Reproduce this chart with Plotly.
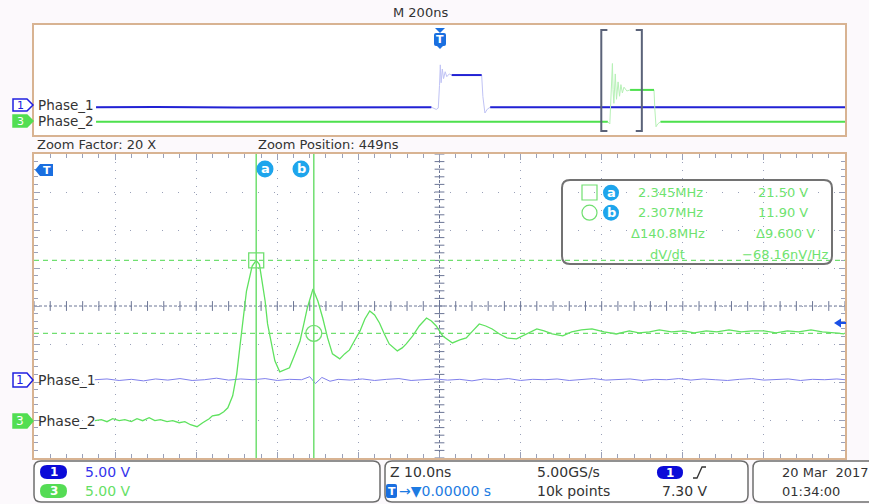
import numpy as np
import plotly.graph_objects as go

W, H = 869, 504

# ---------------- data ----------------
VOLTS_PER_DIV = 5.0
CH1_OFFSET_DIV = -2.0
CH3_OFFSET_DIV = -3.1
ZOOM_CENTER_NS = 449.0
ZOOM_RANGE_NS = [399.0, 499.0]
OVERVIEW_RANGE_NS = [-1000.0, 1000.0]

# zoomed Phase_2 (channel 3) waveform: time (ns) and volts
zoom_t3 = [406.5, 407.3, 408.0, 408.7, 409.5, 410.2, 411.0, 411.7, 412.4, 413.2,
           413.9, 414.6, 415.4, 416.1, 416.9, 417.6, 418.3, 419.1, 419.8, 420.6,
           421.0, 421.8, 422.4, 422.9, 423.5, 424.0, 424.4, 424.9, 425.2, 425.9,
           426.4, 426.8, 427.1, 427.5, 427.8, 428.3, 428.7, 429.3, 429.9, 430.5,
           431.1, 431.8, 432.3, 432.7, 433.4, 434.0, 434.6, 435.2, 435.8, 436.7,
           437.3, 437.9, 438.5, 439.2, 439.8, 440.4, 441.0, 441.6, 442.2, 442.8,
           443.8, 444.4, 444.9, 445.7, 446.5, 447.4, 448.0, 448.6, 449.4, 450.0,
           450.6, 451.5, 452.3, 453.1, 453.9, 454.7, 455.5, 456.4, 457.3, 458.5,
           459.7, 461.0, 461.9, 462.9, 464.2, 465.3, 466.5, 467.8, 469.3, 470.8,
           472.4, 473.6, 474.9, 476.1, 477.6, 479.1, 480.4, 481.9, 483.2, 484.7,
           486.2, 487.6, 489.0, 490.5, 491.9, 493.3, 494.8, 496.2, 497.7, 498.9]
zoom_v3 = [0.41, 0.54, 0.28, 0.67, 0.41, 0.54, 0.28, 0.67, 0.41, 0.80,
           0.41, 0.54, 0.28, 0.41, 0.14, 0.28, -0.12, -0.38, 0.14, 0.67,
           1.06, 1.19, 1.59, 2.11, 3.69, 6.57, 10.25, 14.84, 17.47, 20.75,
           21.50, 20.95, 18.78, 16.16, 13.14, 10.25, 8.28, 6.84, 7.10, 7.36,
           8.94, 10.90, 13.27, 15.24, 17.73, 16.16, 13.92, 11.30, 9.20, 8.54,
           9.20, 9.72, 10.90, 12.22, 13.79, 14.84, 14.32, 13.27, 11.82, 10.51,
           9.59, 9.99, 10.51, 11.56, 12.87, 13.92, 13.53, 12.87, 11.56, 11.04,
           10.64, 11.04, 11.30, 12.22, 13.14, 12.87, 12.48, 11.82, 11.30, 11.17,
           11.82, 12.48, 12.22, 11.82, 11.56, 12.09, 12.35, 12.48, 12.09, 11.82,
           12.22, 11.96, 12.09, 12.35, 12.09, 12.22, 11.96, 12.22, 12.09, 12.35,
           12.09, 12.22, 12.22, 11.96, 12.22, 12.09, 12.35, 12.09, 11.96, 11.82]

# zoomed Phase_1 (channel 1) waveform
zoom_t1 = [406.5, 408.0, 409.5, 411.0, 412.5, 414.0, 415.5, 417.0, 418.5, 420.0,
           421.5, 423.0, 424.5, 426.0, 427.5, 429.0, 430.5, 432.0, 433.0, 433.7,
           434.5, 435.5, 436.5, 438.0, 439.5, 441.0, 442.5, 444.0, 445.5, 447.0,
           448.5, 450.0, 451.5, 453.0, 454.5, 456.0, 457.5, 459.0, 460.5, 462.0,
           463.5, 465.0, 466.5, 468.0, 469.5, 471.0, 472.5, 474.0, 475.5, 477.0,
           478.5, 480.0, 481.5, 483.0, 484.5, 486.0, 487.5, 489.0, 490.5, 492.0,
           493.5, 495.0, 496.5, 498.0, 499.0]
zoom_v1 = [0.30, 0.40, 0.20, 0.35, 0.15, 0.40, 0.25, 0.45, 0.20, 0.30,
           0.50, 0.25, 0.40, 0.30, 0.45, 0.20, 0.35, 0.30, 0.70, -0.20,
           0.60, 0.10, 0.35, 0.25, 0.40, 0.20, 0.35, 0.45, 0.20, 0.30,
           0.40, 0.25, 0.35, 0.15, 0.40, 0.30, 0.45, 0.20, 0.35, 0.30,
           0.40, 0.20, 0.35, 0.45, 0.25, 0.30, 0.40, 0.20, 0.35, 0.30,
           0.45, 0.25, 0.40, 0.30, 0.20, 0.35, 0.45, 0.25, 0.30, 0.40,
           0.20, 0.35, 0.30, 0.40, 0.30]

# overview (200 ns/div) waveforms
ov_t1 = [-847, -700, -500, -300, -100, -20, -8, -3, 0, 2,
         4, 7, 10, 14, 18, 24, 30, 60, 104, 107,
         112, 118, 125, 300, 500, 700, 1000]
ov_v1 = [0.1, 0.2, 0.0, 0.1, 0.2, 0.1, -0.7, -0.2, 8.0, 15.5,
         9.0, 14.0, 10.5, 13.0, 11.2, 12.2, 11.8, 11.8, 11.8, 4.0,
         -2.0, -0.6, 0.1, 0.1, 0.2, 0.0, 0.1]
ov_t3 = [-847, -600, -300, 0, 200, 415, 420, 423, 425, 426.4,
         428, 430, 433.5, 436.5, 440.4, 444, 447.4, 451, 455, 462,
         470, 500, 529, 531, 534, 538, 545, 700, 850, 1000]
ov_v3 = [0.35, 0.30, 0.40, 0.35, 0.30, 0.35, -0.5, 8.0, 18.0, 21.5,
         12.0, 7.0, 17.7, 8.5, 14.8, 9.6, 13.8, 10.8, 12.9, 11.5,
         11.9, 11.9, 11.9, 5.0, -1.5, -0.5, 0.3, 0.35, 0.30, 0.35]

# cursors
cursor_t = [426.4, 433.5]
cursor_v = [21.50, 11.90]

readout_freq = ["2.345MHz", "2.307MHz", "Δ140.8MHz", "dV/dt"]
readout_volt = ["21.50 V", "11.90 V", "Δ9.600 V", "−68.16nV/Hz"]

# ---------------- styles ----------------
FONT = "DejaVu Sans"
TAN = "#d8b392"
GRID = "#9aa1b9"
CROSS = "#6c7696"
BLUE = "#2222d4"
BLUE_PALE = "#c0c3f5"
BLUE_Z = "#8080ec"
GREEN = "#4ee04e"
GREEN_PALE = "#b6f1b6"
GREEN_Z = "#5fe25f"
CUR = "#70df70"
LBLUE = "#1ea5ec"
TBLUE = "#1a6fe0"
TXT = "#333333"


def px(x):
    return x / W


def py(y):
    return 1 - y / H


def to_div(vals, off):
    return [None if v is None else v / VOLTS_PER_DIV + off for v in vals]


def poly(points):
    return "M " + " L ".join(f"{px(x):.5f},{py(y):.5f}" for x, y in points) + " Z"


def rrect(x0, y0, x1, y1, r):
    P = lambda x, y: f"{px(x):.5f},{py(y):.5f}"
    return (f"M {P(x0 + r, y0)} L {P(x1 - r, y0)} Q {P(x1, y0)} {P(x1, y0 + r)} "
            f"L {P(x1, y1 - r)} Q {P(x1, y1)} {P(x1 - r, y1)} L {P(x0 + r, y1)} "
            f"Q {P(x0, y1)} {P(x0, y1 - r)} L {P(x0, y0 + r)} Q {P(x0, y0)} {P(x0 + r, y0)} Z")


shapes = []
annotations = []


def txt(x, y, s, color=TXT, size=13, anchor="left", bold=False):
    annotations.append(dict(
        x=px(x), y=py(y), xref="paper", yref="paper", text=(f"<b>{s}</b>" if bold else s),
        showarrow=False, xanchor=anchor, yanchor="middle",
        font=dict(family=FONT, size=size, color=color)))


def pshape(path, fill=None, line=None, width=1.5, layer="above"):
    shapes.append(dict(type="path", path=path, xref="paper", yref="paper",
                       fillcolor=fill if fill else "rgba(0,0,0,0)",
                       line=dict(color=line if line else "rgba(0,0,0,0)", width=width),
                       layer=layer))


def circ(cx, cy, r, fill=None, line=None, width=1.2):
    shapes.append(dict(type="circle", xref="paper", yref="paper",
                       x0=px(cx - r), x1=px(cx + r), y0=py(cy + r), y1=py(cy - r),
                       fillcolor=fill if fill else "rgba(0,0,0,0)",
                       line=dict(color=line if line else "rgba(0,0,0,0)", width=width)))


fig = go.Figure()

# ---------------- overview traces ----------------
def mask(ts, vs, windows):
    return [None if any(a < t < b for a, b in windows) else v for t, v in zip(ts, vs)]

fig.add_trace(go.Scatter(x=ov_t1, y=to_div(ov_v1, CH1_OFFSET_DIV), mode="lines",
                         line=dict(color=BLUE_PALE, width=1), xaxis="x", yaxis="y", hoverinfo="skip"))
fig.add_trace(go.Scatter(x=ov_t1, y=to_div(mask(ov_t1, ov_v1, [(-10, 28), (105, 124)]), CH1_OFFSET_DIV),
                         mode="lines", line=dict(color=BLUE, width=2), connectgaps=False,
                         xaxis="x", yaxis="y", hoverinfo="skip"))
fig.add_trace(go.Scatter(x=ov_t3, y=to_div(ov_v3, CH3_OFFSET_DIV), mode="lines",
                         line=dict(color=GREEN_PALE, width=1), xaxis="x", yaxis="y", hoverinfo="skip"))
fig.add_trace(go.Scatter(x=ov_t3, y=to_div(mask(ov_t3, ov_v3, [(416, 469), (530, 544)]), CH3_OFFSET_DIV),
                         mode="lines", line=dict(color=GREEN, width=2), connectgaps=False,
                         xaxis="x", yaxis="y", hoverinfo="skip"))

# ---------------- zoom panel crosshair ticks ----------------
hx = np.arange(ZOOM_RANGE_NS[0], ZOOM_RANGE_NS[1] + 0.01, 2.0)
fig.add_trace(go.Scatter(x=hx, y=np.zeros_like(hx), mode="markers",
                         marker=dict(symbol="line-ns", size=7, line=dict(width=1, color=CROSS)),
                         xaxis="x2", yaxis="y2", hoverinfo="skip"))
vy = np.arange(-4, 4.001, 0.2)
fig.add_trace(go.Scatter(x=np.full_like(vy, ZOOM_CENTER_NS), y=vy, mode="markers",
                         marker=dict(symbol="line-ew", size=7, line=dict(width=1, color=CROSS)),
                         xaxis="x2", yaxis="y2", hoverinfo="skip"))

# ---------------- zoom traces ----------------
fig.add_trace(go.Scatter(x=zoom_t1, y=to_div(zoom_v1, CH1_OFFSET_DIV), mode="lines",
                         line=dict(color=BLUE_Z, width=1), xaxis="x2", yaxis="y2", hoverinfo="skip"))
fig.add_trace(go.Scatter(x=zoom_t3, y=to_div(zoom_v3, CH3_OFFSET_DIV), mode="lines",
                         line=dict(color=GREEN_Z, width=1.3), xaxis="x2", yaxis="y2", hoverinfo="skip"))

# cursor markers
cdiv = to_div(cursor_v, CH3_OFFSET_DIV)
fig.add_trace(go.Scatter(x=[cursor_t[0]], y=[cdiv[0]], mode="markers",
                         marker=dict(symbol="square-open", size=15, color=CUR, line=dict(width=1.3)),
                         xaxis="x2", yaxis="y2", hoverinfo="skip"))
fig.add_trace(go.Scatter(x=[cursor_t[1]], y=[cdiv[1]], mode="markers",
                         marker=dict(symbol="circle-open", size=16, color=CUR, line=dict(width=1.3)),
                         xaxis="x2", yaxis="y2", hoverinfo="skip"))

# cursor lines
for t in cursor_t:
    shapes.append(dict(type="line", xref="x2", yref="y2", x0=t, x1=t, y0=-4, y1=4,
                       line=dict(color=CUR, width=1.5)))
for d in cdiv:
    shapes.append(dict(type="line", xref="x2", yref="y2", x0=ZOOM_RANGE_NS[0], x1=ZOOM_RANGE_NS[1],
                       y0=d, y1=d, line=dict(color=CUR, width=1.2, dash="5px,4px")))

# crosshair center lines
shapes.append(dict(type="line", xref="x2", yref="y2", x0=ZOOM_RANGE_NS[0], x1=ZOOM_RANGE_NS[1],
                   y0=0, y1=0, line=dict(color=CROSS, width=1, dash="3px,2px"), layer="below"))
shapes.append(dict(type="line", xref="x2", yref="y2", x0=ZOOM_CENTER_NS, x1=ZOOM_CENTER_NS,
                   y0=-4, y1=4, line=dict(color=CROSS, width=1, dash="3px,2px"), layer="below"))

# zoom bracket in overview
for (xa, xb) in [(ZOOM_RANGE_NS[0], ZOOM_RANGE_NS[0] + 15), (ZOOM_RANGE_NS[1], ZOOM_RANGE_NS[1] - 15)]:
    shapes.append(dict(type="path", xref="x", yref="paper",
                       path=f"M {xb},{py(30):.5f} L {xa},{py(30):.5f} L {xa},{py(131):.5f} L {xb},{py(131):.5f}",
                       line=dict(color="#5b6379", width=2)))

# ---------------- labels / decorations ----------------
txt(420, 12, "M 200ns", size=13, anchor="center")
txt(35, 144, "Zoom Factor: 20 X", size=13)
txt(256, 144, "Zoom Position: 449ns", size=13)

# channel markers
for (yc, h) in [(105, 6), (380, 7)]:
    pshape(poly([(13, yc - h), (27, yc - h), (33, yc), (27, yc + h), (13, yc + h)]), fill="white", line="#2020e0", width=1.5)
    txt(20, yc, "1", color="#2020e0", size=12 if h == 7 else 11, anchor="center")
for (yc, h) in [(121, 6), (421, 7)]:
    pshape(poly([(13, yc - h), (27, yc - h), (33, yc), (27, yc + h), (13, yc + h)]), fill="#52de52", line="#52de52", width=1.5)
    txt(20, yc, "3", color="white", size=12 if h == 7 else 11, anchor="center")
txt(36, 105, "Phase_1", size=13.5)
txt(36, 121, "Phase_2", size=13.5)
txt(36, 380, "Phase_1", size=14)
txt(36, 421, "Phase_2", size=14)

# trigger markers
pshape(poly([(435, 28), (445, 28), (440, 33)]), fill=TBLUE)
pshape(rrect(434, 33, 446, 46, 2), fill=TBLUE)
pshape(poly([(437, 46), (443, 46), (440, 49)]), fill=TBLUE)
txt(440, 39.5, "T", color="white", size=11, anchor="center", bold=True)
pshape(poly([(35, 170), (40, 164), (53, 164), (53, 176), (40, 176)]), fill=TBLUE)
txt(47, 170, "T", color="white", size=11, anchor="center", bold=True)
pshape(poly([(834, 323), (841, 318.5), (841, 327.5)]), fill="#1a50e6")
shapes.append(dict(type="line", xref="paper", yref="paper", x0=px(840), x1=px(846), y0=py(323), y1=py(323),
                   line=dict(color="#1a50e6", width=2)))

# cursor labels at top of zoom panel
for cx, s in [(265, "a"), (301, "b")]:
    circ(cx, 169, 8.5, fill=LBLUE)
    txt(cx, 169, s, color="white", size=13, anchor="center", bold=True)

# readout box
pshape(rrect(562, 180, 832, 264, 8), line="#727272", width=2)
shapes.append(dict(type="rect", xref="paper", yref="paper", x0=px(582), x1=px(597), y0=py(200), y1=py(185),
                   line=dict(color=CUR, width=1.2)))
circ(589.5, 212.7, 7.5, line=CUR)
for yy, s in [(192.7, "a"), (212.7, "b")]:
    circ(611, yy, 8, fill=LBLUE)
    txt(611, yy, s, color="white", size=13, anchor="center", bold=True)
row_y = [192.7, 212.7, 233.3, 254]
freq_x = [636, 636, 629, 648]
volt_x = [810, 810, 817, 830]
for yy, fx, vx, f, v in zip(row_y, freq_x, volt_x, readout_freq, readout_volt):
    txt(fx, yy, f, color="#6fe36f", size=13)
    txt(vx, yy, v, color="#6fe36f", size=13, anchor="right")

# ---------------- status bar ----------------
pshape(rrect(34, 461, 380, 502, 7), fill="white", line="#6e6e6e", width=1.5)
pshape(rrect(385, 461, 748, 502, 7), fill="white", line="#6e6e6e", width=1.5)
pshape(rrect(753, 461, 890, 502, 7), fill="white", line="#6e6e6e", width=1.5)

pshape(rrect(40, 465, 67, 479, 7), fill="#0b0bd8")
txt(53.5, 472, "1", color="white", size=12, anchor="center", bold=True)
pshape(rrect(40, 484, 67, 498, 7), fill="#55dc55")
txt(53.5, 491, "3", color="white", size=12, anchor="center", bold=True)
txt(83, 472, "5.00 V", color="#3434ec", size=14)
txt(83, 491, "5.00 V", color="#66df66", size=14)

txt(388, 472, "Z 10.0ns", size=14)
pshape(rrect(386, 484, 397, 498, 2), fill=TBLUE)
txt(391.5, 491, "T", color="white", size=11, anchor="center", bold=True)
txt(397, 491, "→▼0.00000 s", color="#1d7be2", size=14)
txt(535, 472, "5.00GS/s", size=14)
txt(535, 491, "10k points", size=14)
pshape(rrect(657, 466, 683, 479, 6.5), fill="#0b0bd8")
txt(670, 472.5, "1", color="white", size=12, anchor="center", bold=True)
shapes.append(dict(type="path", xref="paper", yref="paper",
                   path=f"M {px(693)},{py(478)} L {px(697)},{py(478)} L {px(702)},{py(467)} L {px(706)},{py(467)}",
                   line=dict(color=TXT, width=1.3)))
txt(685, 491, "7.30 V", size=14, anchor="center")
txt(780, 472, "20 Mar  2017", size=13)
txt(780, 491, "01:34:00", size=13)

# ---------------- layout ----------------
x_dom = [px(34), px(845)]
fig.update_layout(
    width=W, height=H, margin=dict(l=0, r=0, t=0, b=0),
    paper_bgcolor="#fcf9fc", plot_bgcolor="#ffffff", showlegend=False,
    xaxis=dict(domain=x_dom, range=OVERVIEW_RANGE_NS, anchor="y", showgrid=False, zeroline=False,
               showticklabels=False, ticks="", showline=True, mirror=True, linecolor=TAN, linewidth=1.5,
               fixedrange=True),
    yaxis=dict(domain=[py(135), py(25)], range=[-4, 4], anchor="x", showgrid=False, zeroline=False,
               showticklabels=False, ticks="", showline=True, mirror=True, linecolor=TAN, linewidth=1.5,
               fixedrange=True),
    xaxis2=dict(domain=x_dom, range=ZOOM_RANGE_NS, anchor="y2", tick0=ZOOM_RANGE_NS[0], dtick=10,
                showgrid=True, gridcolor=GRID, gridwidth=1, griddash="1px,7px", zeroline=False,
                showticklabels=False, ticks="inside", ticklen=6, tickcolor=GRID, tickwidth=1,
                minor=dict(dtick=2, tick0=ZOOM_RANGE_NS[0], ticks="inside", ticklen=4, tickcolor=GRID, showgrid=False),
                showline=True, mirror="allticks", linecolor=TAN, linewidth=1.5, fixedrange=True),
    yaxis2=dict(domain=[py(458), py(154)], range=[-4, 4], anchor="x2", tick0=-4, dtick=1,
                showgrid=True, gridcolor=GRID, gridwidth=1, griddash="1px,15px", zeroline=False,
                showticklabels=False, ticks="inside", ticklen=6, tickcolor=GRID, tickwidth=1,
                minor=dict(dtick=0.2, tick0=-4, ticks="inside", ticklen=4, tickcolor=GRID, showgrid=False),
                showline=True, mirror="allticks", linecolor=TAN, linewidth=1.5, fixedrange=True),
    shapes=shapes, annotations=annotations,
)

fig.write_html("out.html", config={"displayModeBar": False},
               post_script="document.body.style.margin='0';document.body.style.padding='0';"
                           "document.body.style.overflow='hidden';"
                           "document.body.style.background='#fcf9fc';")
